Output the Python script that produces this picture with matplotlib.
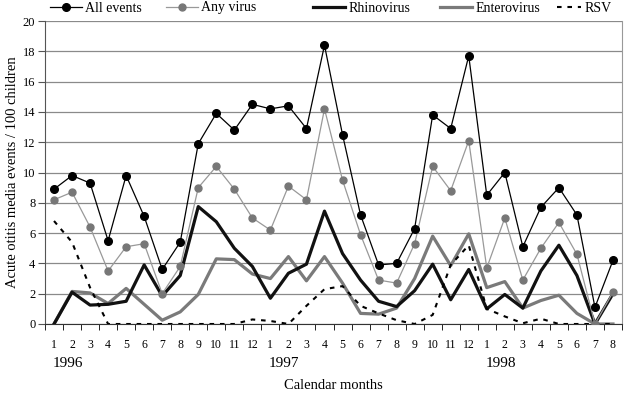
import matplotlib
matplotlib.use("Agg")
import matplotlib.pyplot as plt
import numpy as np
from matplotlib.lines import Line2D

months = [str(m) for m in range(1, 13)] * 2 + [str(m) for m in range(1, 9)]
years = ["1996", "1997", "1998"]

all_events = [8.9, 9.8, 9.3, 5.5, 9.8, 7.1, 3.6, 5.4, 11.9, 13.9, 12.8, 14.5,
              14.2, 14.4, 12.9, 18.4, 12.5, 7.2, 3.9, 4.0, 6.3, 13.8, 12.9, 17.7,
              8.5, 10.0, 5.1, 7.7, 9.0, 7.2, 1.1, 4.2]
any_virus = [8.2, 8.7, 6.4, 3.5, 5.1, 5.3, 2.0, 3.8, 9.0, 10.4, 8.9, 7.0,
             6.2, 9.1, 8.2, 14.2, 9.5, 5.9, 2.9, 2.7, 5.3, 10.4, 8.8, 12.1,
             3.7, 7.0, 2.9, 5.0, 6.7, 4.6, 0.0, 2.1]
rhinovirus = [0.0, 2.1, 1.25, 1.3, 1.5, 3.9, 1.85, 3.2, 7.75, 6.75, 5.0, 3.8,
              1.7, 3.35, 3.95, 7.45, 4.65, 2.9, 1.5, 1.15, 2.2, 3.95, 1.6, 3.6,
              1.0, 1.95, 1.05, 3.5, 5.2, 3.2, 0.0, 2.0]
enterovirus = [0.0, 2.15, 2.05, 1.35, 2.35, 1.3, 0.25, 0.8, 1.95, 4.3, 4.25, 3.3,
               3.0, 4.45, 2.85, 4.45, 2.7, 0.7, 0.65, 1.05, 3.0, 5.8, 3.85, 5.95,
               2.4, 2.8, 1.05, 1.55, 1.9, 0.7, 0.0, 0.0]
rsv = [6.8, 5.4, 2.4, 0.0, 0.0, 0.0, 0.0, 0.0, 0.0, 0.0, 0.0, 0.3,
       0.2, 0.0, 1.2, 2.3, 2.5, 1.2, 0.7, 0.25, 0.0, 0.6, 3.9, 5.2,
       1.0, 0.5, 0.05, 0.35, 0.0, 0.0, 0.0, 0.0]

serif = "Liberation Serif"
plt.rcParams['font.family'] = [serif, 'DejaVu Serif']

fig = plt.figure(figsize=(6.26, 3.94), dpi=100)
ax = fig.add_axes([45/626, 1-324/394, 577/626, 303/394])

x = np.arange(len(months))
ax.plot(x, enterovirus, color="#7a7a7a", lw=2.3, zorder=3)
ax.plot(x, rhinovirus, color="#111111", lw=2.3, zorder=4)
ax.plot(x, rsv, color="black", lw=1.5, ls=(0, (2.2, 2.8)), zorder=5)
ax.plot(x, any_virus, color="#999999", lw=0.9, marker="o", ms=5,
        mfc="#777777", mec="#777777", zorder=6)
ax.plot(x, all_events, color="black", lw=0.9, marker="o", ms=5.5,
        mfc="black", mec="black", zorder=7)

ax.set_xlim(-0.5, 31.38)
ax.set_ylim(0, 20)
ax.set_yticks(np.arange(0, 21, 2))
ax.tick_params(axis='y', labelsize=9, length=5, direction='out', pad=2,
               color="#555555")
ax.grid(axis='y', color="#8a8a8a", lw=0.9, zorder=0)
ax.set_axisbelow(True)
ax.spines["top"].set_visible(False)
ax.spines["right"].set_color("#999999")
ax.spines["right"].set_linewidth(0.8)
ax.spines["left"].set_color("#555555")
ax.spines["bottom"].set_color("#333333")

ax.set_xticks(x)
ax.set_xticklabels(months, fontsize=8.5)
ax.tick_params(axis='x', which='major', length=0, pad=11)
ax.set_xticks(np.arange(-0.5, len(months), 1), minor=True)
ax.tick_params(axis='x', which='minor', length=4, direction='out')

for i, yr in enumerate(years):
    ax.text(i * 12 - 0.08, -0.11, yr, transform=ax.get_xaxis_transform(),
            ha='left', va='top', fontsize=11)

ax.set_xlabel("Calendar months", fontsize=10.5, labelpad=20)
ax.set_ylabel("Acute otitis media events / 100 children", fontsize=10.5, labelpad=3)

entries = [
    (50, "All events", dict(color="black", lw=0.9, marker="o", ms=5.5, mfc="black", mec="black")),
    (166, "Any virus", dict(color="#999999", lw=0.9, marker="o", ms=5, mfc="#777777", mec="#777777")),
    (313, "Rhinovirus", dict(color="#111111", lw=2.3)),
    (440, "Enterovirus", dict(color="#7a7a7a", lw=2.3)),
    (557, "RSV", dict(color="black", lw=1.5, ls=(0, (2.2, 2.8)))),
]
for xpos, label, kw in entries:
    h = Line2D([], [], **kw)
    fig.legend([h], [label], loc="center left",
               bbox_to_anchor=(xpos/626, 1-8/394), frameon=False,
               fontsize=10, handlelength=2.3 if label != "RSV" else 1.7,
               handletextpad=0.25, borderpad=0, borderaxespad=0)

fig.savefig("out.png", dpi=100)
